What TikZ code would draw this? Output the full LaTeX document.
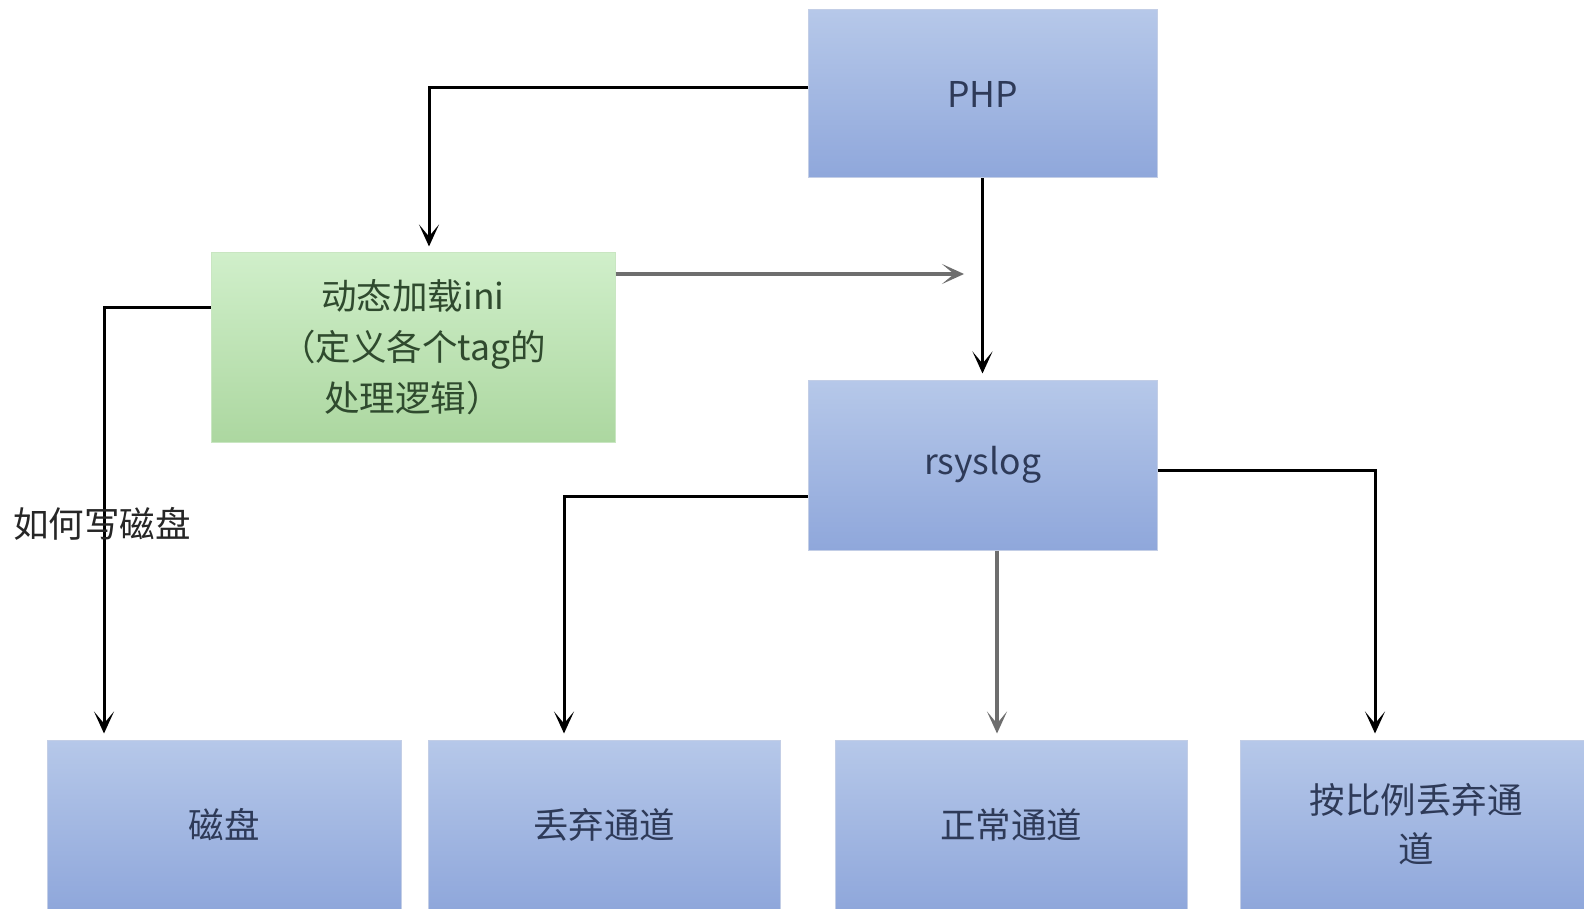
\documentclass[tikz,border=0pt]{standalone}
\usepackage{fontspec}
\setmainfont{Noto Sans CJK SC}
\usetikzlibrary{arrows.meta}
\definecolor{bluetop}{HTML}{B6C8E9}
\definecolor{bluebot}{HTML}{8FA7DB}
\definecolor{blueedge}{HTML}{C3CEE6}
\definecolor{greentop}{HTML}{D0EFCA}
\definecolor{greenbot}{HTML}{ACD7A0}
\definecolor{greenedge}{HTML}{C9E6C2}
\definecolor{bluetext}{HTML}{2E3A58}
\definecolor{greentext}{HTML}{2F4A2E}
\definecolor{linkgray}{HTML}{6E6E6E}
\tikzset{
  bluebox/.style={rectangle, draw=blueedge, line width=1pt, top color=bluetop, bottom color=bluebot,
    text=bluetext, font=\fontsize{35.5}{49}\selectfont, align=center, inner sep=0pt},
  greenbox/.style={rectangle, draw=greenedge, line width=1pt, top color=greentop, bottom color=greenbot,
    text=greentext, font=\fontsize{35.5}{51}\selectfont, align=center, inner sep=0pt},
  link/.style={draw=black, line width=3pt,
    -{Stealth[length=22pt,width=20pt,inset=12pt]}, shorten >=6pt},
  graylink/.style={draw=linkgray, line width=4pt,
    -{Stealth[length=22pt,width=20pt,inset=12pt]}, shorten >=6pt},
  note/.style={font=\fontsize{35.5}{40}\selectfont, text=black!85, inner sep=0pt}
}
\begin{document}
\begin{tikzpicture}[x=1pt, y=-1pt]
  \useasboundingbox (0,0) rectangle (1584,909);
  \clip (0,0) rectangle (1584,909);
  \fill[white] (0,0) rectangle (1584,909);

  % source and dispatcher
  \node[bluebox, minimum width=349pt, minimum height=168pt] (php) at (982.5,94) {PHP};
  \node[bluebox, minimum width=349pt, minimum height=170pt] (rsyslog) at (982.5,465) {rsyslog};
  \node[greenbox, minimum width=404pt, minimum height=189pt] (dyn) at (413,347.5)
    {动态加载ini\\（定义各个tag的\\处理逻辑）};

  % destinations
  \node[bluebox, minimum width=354pt, minimum height=169pt] (disk) at (224,824.5) {磁盘};
  \node[bluebox, minimum width=352pt, minimum height=169pt] (drop) at (604,824.5) {丢弃通道};
  \node[bluebox, minimum width=352pt, minimum height=169pt] (normal) at (1011,824.5) {正常通道};
  \node[bluebox, minimum width=352pt, minimum height=169pt] (ratio) at (1416,824.5) {按比例丢弃通\\道};

  % connectors
  \draw[link] ([yshift=6pt]php.west) -| ([xshift=16pt]dyn.north);
  \draw[link] (php.south) -- (rsyslog.north);
  \coordinate (dynout) at (970,274);
  \draw[graylink] ([yshift=73.5pt]dyn.east) -- (dynout);
  \draw[link] ([yshift=40.5pt]dyn.west) -| ([xshift=-120pt]disk.north);
  \node[note] (howto) at (102,524) {如何写磁盘};
  \draw[link] ([yshift=-31pt]rsyslog.west) -| ([xshift=-40pt]drop.north);
  \draw[graylink] ([xshift=14.5pt]rsyslog.south) -- ([xshift=14.5pt]rsyslog.south |- normal.north);
  \draw[link] ([yshift=-5pt]rsyslog.east) -| ([xshift=-41pt]ratio.north);
\end{tikzpicture}
\end{document}
